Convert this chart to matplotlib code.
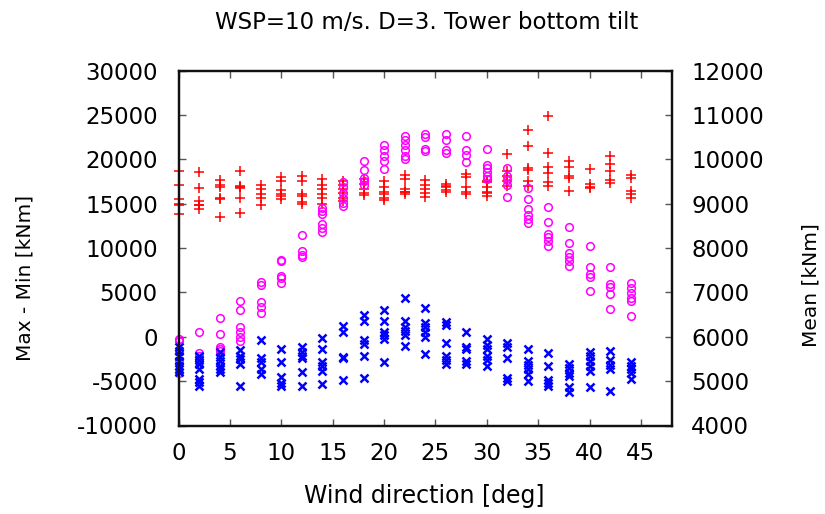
import matplotlib
matplotlib.use("Agg")
import matplotlib.pyplot as plt
import numpy as np

# Wind direction [deg]
angles = [0, 2, 4, 6, 8, 10, 12, 14, 16, 18, 20, 22, 24, 26, 28, 30, 32, 34, 36, 38, 40, 42, 44]

# Max - Min [kNm] (left axis), red +
maxmin_vals = [
    [18700, 17100, 15500, 15000, 14800, 13800],
    [18600, 16750, 15300, 14900, 14850, 14360],
    [17660, 17130, 16820, 15690, 15530, 13520],
    [18720, 17010, 16900, 16750, 15690, 13980],
    [17130, 16640, 16140, 15610, 14850],
    [18030, 17580, 16520, 16140, 15880, 15500],
    [18150, 17500, 16140, 15880, 15230, 15000],
    [17770, 17130, 16640, 16140, 15610, 15000],
    [17580, 17130, 16640, 16250, 15690, 15300],
    [17770, 17200, 16640, 16250, 16000],
    [17580, 16820, 16330, 16060, 15690, 15390],
    [18260, 17770, 16640, 16360, 16300, 16140],
    [17660, 17130, 16640, 16250, 15760],
    [17200, 17000, 16820, 16500, 16330],
    [18340, 17960, 16820, 16360, 16060],
    [17500, 17390, 16900, 16360, 16250, 15880],
    [20610, 18720, 18150, 17580, 17010],
    [23340, 21440, 19020, 18800, 17500, 17010],
    [24850, 20680, 19170, 18410, 17390, 17010],
    [19850, 19170, 18150, 17880, 16440],
    [18910, 17200, 16900, 16750],
    [20420, 19480, 18640, 17660, 17270],
    [18260, 17880, 16440, 16060, 15610],
]

# Mean [kNm] (right axis), magenta circles
mean_a_vals = [
    [5955, 5895, 5700, 5486, 5182],
    [6107, 5636, 5577, 5450],
    [6425, 6068, 5766, 5714, 5668],
    [6805, 6600, 6220, 6107, 5993, 5895],
    [7227, 7168, 6773, 6675, 6545],
    [7736, 7714, 7380, 7318, 7205],
    [8289, 7925, 7850, 7790],
    [8909, 8834, 8759, 8532, 8455, 8364],
    [9477, 9364, 9250, 9136, 9023, 8948],
    [9970, 9759, 9577, 9500, 9425],
    [10311, 10214, 10084, 9970, 9782],
    [10516, 10425, 10311, 10198, 10084, 10009],
    [10561, 10500, 10236, 10182],
    [10561, 10425, 10214, 10136],
    [10516, 10198, 10107, 9932],
    [10236, 9880, 9805, 9705, 9630, 9555],
    [9805, 9630, 9532, 9425, 9152],
    [9350, 9100, 8873, 8743, 8645, 8568],
    [8925, 8591, 8318, 8243, 8152, 8039],
    [8470, 8114, 7886, 7790, 7700, 7584],
    [8039, 7561, 7420, 7340, 7032],
    [7561, 7182, 7130, 6955, 6636],
    [7205, 7091, 6977, 6864, 6805, 6464],
]

# Mean [kNm] (right axis), blue x
mean_b_vals = [
    [5780, 5668, 5577, 5464, 5350, 5273, 5214],
    [5577, 5486, 5386, 5273, 5045, 4970, 4895],
    [5652, 5539, 5464, 5350, 5273, 5198],
    [5691, 5577, 5500, 5386, 4895],
    [5918, 5516, 5441, 5273, 5159],
    [5714, 5425, 5084, 4955, 4895],
    [5766, 5652, 5561, 5516, 5214, 4895],
    [5970, 5714, 5425, 5350, 5236, 4932],
    [6243, 6107, 5540, 5516, 5030],
    [6500, 6350, 5918, 5841, 5577, 5061],
    [6600, 6350, 6107, 6032, 5941, 5441],
    [6864, 6350, 6220, 6123, 6045, 5789],
    [6652, 6318, 6220, 6107, 5993, 5614],
    [6334, 6273, 5864, 5577, 5486, 5386],
    [6107, 5766, 5714, 5464, 5386],
    [5941, 5818, 5714, 5561, 5486, 5334],
    [5864, 5766, 5516, 5061, 5008],
    [5727, 5464, 5364, 5273, 5159, 5008],
    [5636, 5350, 5032, 4955, 4895],
    [5386, 5289, 5182, 5107, 4857, 4759],
    [5652, 5561, 5464, 5350, 5236, 4857],
    [5668, 5486, 5364, 5273, 4782],
    [5441, 5350, 5273, 5182, 5045],
]

x_ticks = [0, 5, 10, 15, 20, 25, 30, 35, 40, 45]
y1_ticks = [-10000, -5000, 0, 5000, 10000, 15000, 20000, 25000, 30000]
y2_ticks = [4000, 5000, 6000, 7000, 8000, 9000, 10000, 11000, 12000]


def flatten(xs, groups):
    px, py = [], []
    for x, g in zip(xs, groups):
        px.extend([x] * len(g))
        py.extend(g)
    return px, py


W, H = 825, 514
fig = plt.figure(figsize=(W / 100, H / 100), dpi=100)
L, R, T, B = 178.6, 671.7, 70.5, 425.5
ax = fig.add_axes([L / W, 1 - B / H, (R - L) / W, (B - T) / H])
ax2 = ax.twinx()

x1, y1 = flatten(angles, maxmin_vals)
ax.plot(x1, y1, linestyle="none", marker="+", color="#ff0000", ms=7, mew=1.1, clip_on=False)

x2, y2 = flatten(angles, mean_a_vals)
ax2.plot(x2, y2, linestyle="none", marker="o", mfc="none", mec="#ff00ff", ms=5.5, mew=1.1, clip_on=False)

x3, y3 = flatten(angles, mean_b_vals)
ax2.plot(x3, y3, linestyle="none", marker="x", color="#0000ff", ms=5.5, mew=1.8, clip_on=False)

ax.set_xlim(0, 48)
ax.set_ylim(-10000, 30000)
ax2.set_ylim(4000, 12000)
ax.set_xticks(x_ticks)
ax.set_xticklabels([str(v) for v in x_ticks])
ax.set_yticks(y1_ticks)
ax.set_yticklabels([str(v) for v in y1_ticks])
ax2.set_yticks(y2_ticks)
ax2.set_yticklabels([str(v) for v in y2_ticks])

fs = 16.5
ax.tick_params(axis="x", direction="in", top=True, bottom=True, length=5, width=1,
               color="#555555", labelsize=fs, pad=12)
ax.tick_params(axis="y", direction="in", left=True, right=False, length=5, width=1,
               color="#555555", labelsize=fs, pad=15)
ax2.tick_params(axis="y", direction="in", right=True, left=False, length=5, width=1,
                color="#555555", labelsize=fs, pad=14)

for a in (ax, ax2):
    for s in a.spines.values():
        s.set_linewidth(1.6)
        s.set_color("#111111")

fig.text(426.5 / W, 1 - 29 / H, "WSP=10 m/s. D=3. Tower bottom tilt",
         ha="center", va="baseline", fontsize=16.5)
fig.text(424 / W, 1 - 503 / H, "Wind direction [deg]",
         ha="center", va="baseline", fontsize=17)
fig.text(25 / W, 1 - 278 / H, "Max - Min [kNm]", rotation=90,
         ha="center", va="center", fontsize=14.5)
fig.text(811 / W, 1 - 285 / H, "Mean [kNm]", rotation=90,
         ha="center", va="center", fontsize=14.5)

fig.savefig("out.png", dpi=100)
